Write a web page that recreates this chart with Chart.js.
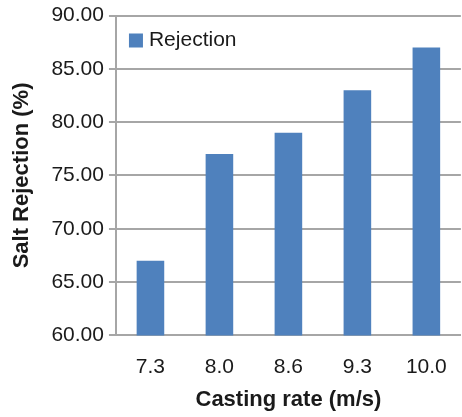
<!DOCTYPE html>
<html>
<head>
<meta charset="utf-8">
<script src="https://cdn.jsdelivr.net/npm/chart.js@4"></script>
<style>
  html, body { margin: 0; padding: 0; background: #fff; overflow: hidden; }
  #wrap { width: 466px; height: 417px; }
</style>
</head>
<body>
<div id="wrap"><canvas id="myChart" width="466" height="417"></canvas></div>
<script>
const categories = ["7.3", "8.0", "8.6", "9.3", "10.0"];
const rejection = [67, 77, 79, 83, 87];
const yTicks = [60, 65, 70, 75, 80, 85, 90];

const FONT = "'Liberation Sans', Arial, sans-serif";
const GRID = "#A6A6A6";
const TEXT = "#1a1a1a";

// draws the legend inside the plot, top-left
const innerLegend = {
  id: "innerLegend",
  afterDraw(chart) {
    const c = chart.ctx;
    const area = chart.chartArea;
    const ds = chart.data.datasets[0];
    c.save();
    c.fillStyle = ds.backgroundColor;
    c.fillRect(area.left + 13, area.top + 18, 14, 14);
    c.fillStyle = TEXT;
    c.font = "21px " + FONT;
    c.textBaseline = "middle";
    c.fillText(ds.label, area.left + 33, area.top + 25);
    c.restore();
  },
};

const ctx = document.getElementById("myChart").getContext("2d");
new Chart(ctx, {
  type: "bar",
  data: {
    labels: categories,
    datasets: [
      {
        label: "Rejection",
        data: rejection,
        backgroundColor: "#4F81BD",
        borderWidth: 0,
        barPercentage: 0.4,
        categoryPercentage: 1.0,
      },
    ],
  },
  options: {
    responsive: false,
    animation: false,
    layout: { padding: { top: 0, right: 2, left: 9, bottom: 4 } },
    plugins: {
      legend: { display: false },
      tooltip: { enabled: false },
    },
    scales: {
      x: {
        grid: { display: false, drawTicks: false },
        border: { display: true, color: GRID, width: 2 },
        ticks: { color: TEXT, font: { family: FONT, size: 21 }, padding: 19 },
        title: {
          display: true,
          text: "Casting rate (m/s)",
          color: TEXT,
          font: { family: FONT, size: 22, weight: "bold" },
          padding: { top: -12, bottom: 0 },
        },
      },
      y: {
        min: 60,
        max: 90,
        afterBuildTicks(axis) {
          axis.ticks = yTicks.map((v) => ({ value: v }));
        },
        grid: { color: GRID, lineWidth: 2, tickLength: 7 },
        border: { display: true, color: GRID, width: 2 },
        ticks: {
          color: TEXT,
          font: { family: FONT, size: 21, lineHeight: 1.0 },
          padding: 5,
          callback: (v) => Number(v).toFixed(2),
        },
        title: {
          display: true,
          text: "Salt Rejection (%)",
          color: TEXT,
          font: { family: FONT, size: 22, weight: "bold" },
          padding: { top: 0, bottom: 11 },
        },
      },
    },
  },
  plugins: [innerLegend],
});
</script>
</body>
</html>
